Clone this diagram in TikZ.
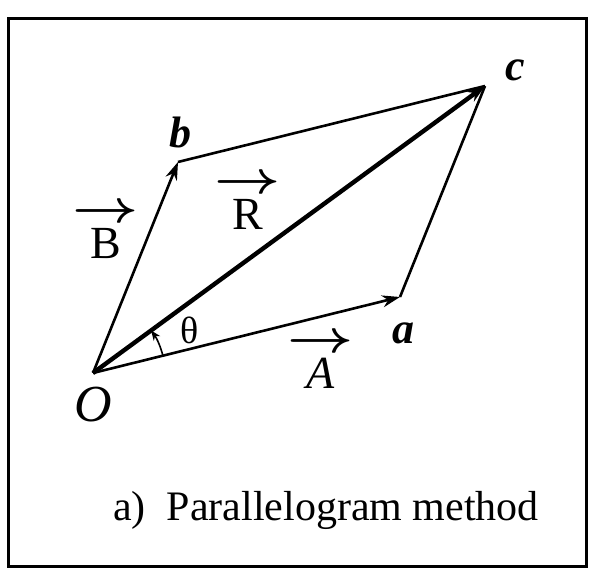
\RequirePackage{fix-cm}
\documentclass[tikz,border=0pt]{standalone}
\usepackage{amsmath}
\usepackage{graphicx}
\usepackage{fontspec}
\setmainfont{Liberation Serif}
\usetikzlibrary{arrows.meta}
\newcommand{\vecarrow}{\scalebox{1.25}[1]{$\boldsymbol{\rightarrow}$}}
\begin{document}
\begin{tikzpicture}[x=0.5pt,y=0.5pt,
		vec/.style={line width=1.3pt,-{Stealth[length=9pt,width=6pt]}},
		side/.style={line width=1.3pt},
		pt/.style={font=\fontsize{22}{22}\selectfont\bfseries\itshape},
		vlbl/.style={font=\fontsize{23}{18}\selectfont,align=center,inner sep=0pt}]
	\useasboundingbox (0,0) rectangle (594,571);
	\draw[line width=1.5pt] (8,4) rectangle (586,552);
	\coordinate (O) at (93,198);
	\coordinate (a) at (400,274);
	\coordinate (b) at (178,409);
	\coordinate (c) at (485,485);
	\draw[side] (b) -- (c);
	\draw[side] (a) -- (c);
	\draw[vec] (O) -- (a);
	\draw[vec] (O) -- (b);
	\draw[vec,line width=2.2pt] (O) -- (c);
	\draw[line width=0.8pt,-{Stealth[length=5pt,width=4pt]}] ([shift={(13.9:72)}]O) arc[start angle=13.9,end angle=36.2,radius=72];
	\node[pt] (lb) at (180,439) {b};
	\node[pt] (lc) at (515,501) {c};
	\node[pt] (la) at (403,238) {a};
	\node[font=\fontsize{26}{26}\selectfont\itshape] (lO) at (93,166) {O};
	\node[vlbl] (lB) at (106,339) {\vecarrow\\B};
	\node[vlbl] (lR) at (248,368) {\vecarrow\\R};
	\node[vlbl] (lA) at (321,209) {\vecarrow\\\textit{A}};
	\node[font=\fontsize{19}{19}\selectfont] (lth) at (190,241) {θ};
	\node[font=\fontsize{21}{21}\selectfont] (caption) at (326,61) {a)\ \ Parallelogram method};
\end{tikzpicture}
\end{document}
